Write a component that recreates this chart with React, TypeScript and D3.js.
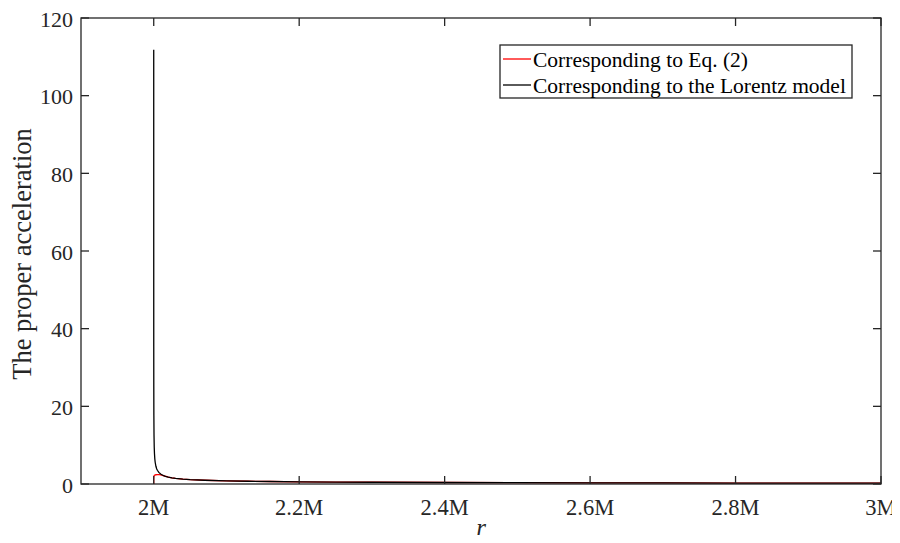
import React from "react";
import * as d3 from "d3";

// r in units of M, proper acceleration values
const lorentzR = [2.0, 2.00002, 2.00005, 2.0001, 2.0002, 2.0004, 2.0007, 2.001, 2.0015, 2.002, 2.003, 2.004, 2.005, 2.007, 2.01, 2.013, 2.016, 2.02, 2.025, 2.03, 2.04, 2.05, 2.07, 2.1, 2.13, 2.16, 2.2, 2.25, 2.3, 2.4, 2.5, 2.6, 2.7, 2.8, 2.9, 3.0];
const lorentzA = [111.8, 55.9, 35.4, 25.0, 17.7, 12.5, 9.45, 7.9, 6.45, 5.6, 4.56, 3.95, 3.53, 2.99, 2.5, 2.2, 1.98, 1.77, 1.59, 1.45, 1.26, 1.13, 0.96, 0.81, 0.71, 0.64, 0.57, 0.5, 0.45, 0.38, 0.33, 0.3, 0.27, 0.25, 0.23, 0.21];
const eq2R = [2.0, 2.0, 2.0003, 2.0008, 2.0015, 2.003, 2.005, 2.008, 2.011, 2.014, 2.017, 2.02, 2.025, 2.03, 2.04, 2.05, 2.07, 2.1, 2.13, 2.16, 2.2, 2.25, 2.3, 2.4, 2.5, 2.6, 2.7, 2.8, 2.9, 3.0];
const eq2A = [0, 1.6, 2.0, 2.2, 2.3, 2.38, 2.42, 2.4, 2.3, 2.12, 1.98, 1.77, 1.59, 1.45, 1.26, 1.13, 0.96, 0.81, 0.71, 0.64, 0.57, 0.5, 0.45, 0.38, 0.33, 0.3, 0.27, 0.25, 0.23, 0.21];

const xTicks = [2, 2.2, 2.4, 2.6, 2.8, 3];
const xTickLabels = ["2M", "2.2M", "2.4M", "2.6M", "2.8M", "3M"];
const yTicks = [0, 20, 40, 60, 80, 100, 120];
const legendLabels = ["Corresponding to Eq. (2)", "Corresponding to the Lorentz model"];
const seriesColors = ["#ff0000", "#000000"];

const W = 900, H = 543;
const L = 81, R = 881, T = 18, B = 484;
const font = "'Liberation Serif', 'Times New Roman', serif";
const axisColor = "#262626";

export default function App() {
  const x = d3.scaleLinear().domain([1.9, 3]).range([L, R]);
  const y = d3.scaleLinear().domain([0, 120]).range([B, T]);
  const line = d3.line<[number, number]>().x(d => x(d[0])).y(d => y(d[1]));
  const eq2 = line(eq2R.map((r, i) => [r, eq2A[i]]) as [number, number][]) || "";
  const lor = line(lorentzR.map((r, i) => [r, lorentzA[i]]) as [number, number][]) || "";
  const tl = 8;
  return (
    <div style={{ margin: -8 }}>
      <svg width={W} height={H} style={{ display: "block", background: "#fff" }}>
        <rect x={0} y={0} width={W} height={H} fill="#fff" />
        <path d={eq2} fill="none" stroke={seriesColors[0]} strokeWidth={1.3} />
        <path d={lor} fill="none" stroke={seriesColors[1]} strokeWidth={1.3} />
        <rect x={L} y={T} width={R - L} height={B - T} fill="none" stroke={axisColor} strokeWidth={1.3} />
        {xTicks.map((t, i) => (
          <g key={"x" + i}>
            <line x1={x(t)} x2={x(t)} y1={B} y2={B - tl} stroke={axisColor} strokeWidth={1.3} />
            <line x1={x(t)} x2={x(t)} y1={T} y2={T + tl} stroke={axisColor} strokeWidth={1.3} />
            <text x={x(t)} y={515} textAnchor="middle" fontFamily={font} fontSize={22.5} fill="#262626">{xTickLabels[i]}</text>
          </g>
        ))}
        {yTicks.map((t, i) => (
          <g key={"y" + i}>
            <line x1={L} x2={L + tl} y1={y(t)} y2={y(t)} stroke={axisColor} strokeWidth={1.3} />
            <line x1={R} x2={R - tl} y1={y(t)} y2={y(t)} stroke={axisColor} strokeWidth={1.3} />
            <text x={L - 8} y={y(t) + 8.5} textAnchor="end" fontFamily={font} fontSize={22} fill="#262626">{t}</text>
          </g>
        ))}
        <text x={(L + R) / 2} y={536} textAnchor="middle" fontFamily={font} fontStyle="italic" fontSize={25} fill="#262626">r</text>
        <text transform={`translate(31, ${(T + B) / 2 + 3}) rotate(-90)`} textAnchor="middle" fontFamily={font} fontSize={26.5} fill="#262626">The proper acceleration</text>
        <rect x={500} y={45} width={352} height={53} fill="#fff" stroke={axisColor} strokeWidth={1.3} />
        {legendLabels.map((lab, i) => (
          <g key={"l" + i}>
            <line x1={503} x2={531} y1={59 + i * 26} y2={59 + i * 26} stroke={seriesColors[i]} strokeWidth={1.3} />
            <text x={533} y={66.5 + i * 26} fontFamily={font} fontSize={21.5} fill="#000">{lab}</text>
          </g>
        ))}
      </svg>
    </div>
  );
}
